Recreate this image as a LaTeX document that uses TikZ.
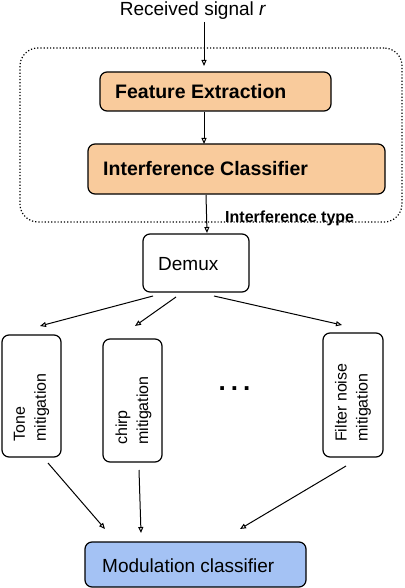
\documentclass[tikz,border=0pt]{standalone}
\usepackage{fontspec}
\setmainfont{Liberation Sans}
\usetikzlibrary{arrows.meta}
\definecolor{orangefill}{HTML}{F9CB9C}
\definecolor{bluefill}{HTML}{A4C2F4}
\begin{document}
\begin{tikzpicture}[x=1pt,y=-1pt,
  box/.style={draw=black,line width=1.2pt,rounded corners=7pt,inner sep=0pt},
  arr/.style={draw=black,line width=1pt,-{Triangle[open,length=6pt,width=5pt]}},
  rtext/.style={rotate=90,anchor=west,align=left,inner sep=0pt,font=\fontsize{16}{21}\selectfont},
  big/.style={font=\fontsize{19}{22}\selectfont}]
\useasboundingbox (0,0) rectangle (404,588);
% dotted frame
\node[draw=black,dotted,line width=1.2pt,rounded corners=18pt,minimum width=382pt,minimum height=174pt,inner sep=0pt] (frame) at (211,135) {};
% title
\node[big,inner sep=0pt] (title) at (193,11) {Received signal \textit{r}};
% boxes
\node[box,fill=orangefill,minimum width=231pt,minimum height=39pt] (fe) at (215.5,91.5) {};
\node[font=\bfseries\fontsize{19.5}{22}\selectfont,anchor=west,inner sep=0pt] (fet) at (115,91.5) {Feature Extraction};
\node[box,fill=orangefill,minimum width=297pt,minimum height=50pt] (ic) at (236.5,169) {};
\node[font=\bfseries\fontsize{19.5}{22}\selectfont,anchor=west,inner sep=0pt] (ict) at (103,169) {Interference Classifier};
\node[font=\bfseries\fontsize{16}{19}\selectfont,anchor=west,inner sep=0pt] (itype) at (225,218) {Interference type};
\node[box,minimum width=106pt,minimum height=58pt] (demux) at (196,263) {};
\node[big,anchor=west,inner sep=0pt] (demuxt) at (158,264) {Demux};
% mitigation boxes
\node[box,minimum width=59pt,minimum height=122pt] (tone) at (31.5,396) {};
\node[rtext] (tonet) at (31.5,442) {Tone\\mitigation};
\node[box,minimum width=59pt,minimum height=123pt] (chirp) at (132.5,400.5) {};
\node[rtext] (chirpt) at (133.5,445) {chirp\\mitigation};
\node[box,minimum width=60pt,minimum height=124pt] (filt) at (353,395) {};
\node[rtext] (filtt) at (353,442) {Filter noise\\mitigation};
\node[font=\bfseries\fontsize{26}{26}\selectfont,inner sep=0pt,anchor=base] (dots) at (234.5,390) {.\hspace{5pt}.\hspace{5pt}.};
% modulation classifier
\node[box,fill=bluefill,minimum width=221pt,minimum height=45pt] (mod) at (195.5,564.5) {};
\node[big,anchor=west,inner sep=0pt] (modt) at (102,566) {Modulation classifier};
% connector coordinates
\coordinate (s0) at (204,22);
\coordinate (e0) at (204,66);
\coordinate (s1) at (204,112);
\coordinate (e1) at (204,144);
\coordinate (s2) at (206,195);
\coordinate (e2) at (207,233);
\coordinate (d1s) at (153,296);
\coordinate (d1e) at (40,326);
\coordinate (d2s) at (176,297);
\coordinate (d2e) at (135,326);
\coordinate (d3s) at (214,296);
\coordinate (d3e) at (342,325);
\coordinate (m1s) at (48,463);
\coordinate (m1e) at (105,529);
\coordinate (m2s) at (139,470);
\coordinate (m2e) at (141,533);
\coordinate (m3s) at (346,466);
\coordinate (m3e) at (240,529);
\draw[arr] (s0) -- (e0);
\draw[arr] (s1) -- (e1);
\draw[arr] (s2) -- (e2);
\draw[arr] (d1s) -- (d1e);
\draw[arr] (d2s) -- (d2e);
\draw[arr] (d3s) -- (d3e);
\draw[arr] (m1s) -- (m1e);
\draw[arr] (m2s) -- (m2e);
\draw[arr] (m3s) -- (m3e);
\end{tikzpicture}
\end{document}
